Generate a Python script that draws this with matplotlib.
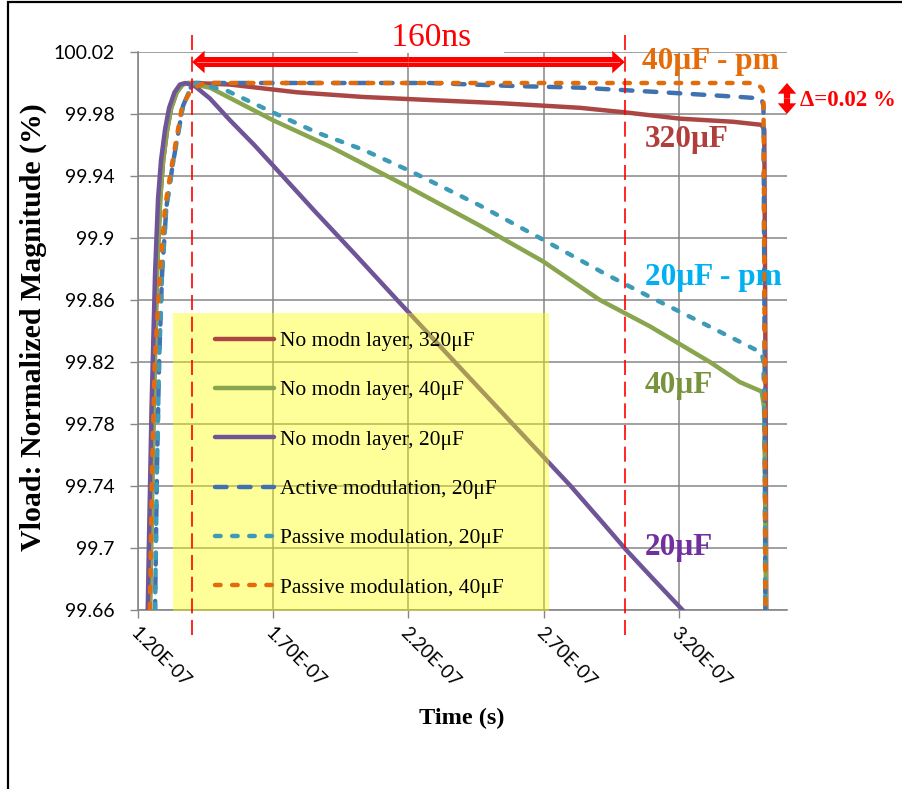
import matplotlib.pyplot as plt
import matplotlib.transforms as mtransforms
from matplotlib.patches import Rectangle, FancyArrowPatch
import numpy as np

# ---- data (time in ns, normalized magnitude in %) ----
t_320 = [123.8, 124.8, 125.8, 127.0, 128.2, 129.3, 130.8, 132.3, 134.3, 136.5, 138.5, 141.1,
         154.0, 178.8, 203.2, 228.0, 253.8, 283.4, 300.4, 320.4, 340.0, 350.6, 351.6, 352.1, 352.6]
v_320 = [99.60, 99.70, 99.79, 99.877, 99.925, 99.950, 99.970, 99.984, 99.994, 99.999, 100.0, 100.0,
         99.999, 99.994, 99.991, 99.989, 99.987, 99.984, 99.981, 99.977, 99.975, 99.973, 99.97, 99.80, 99.50]

t_40 = [123.8, 124.8, 125.8, 127.0, 128.2, 129.3, 130.8, 132.3, 134.3, 136.5, 138.5, 141.0, 146.6,
        157.7, 169.9, 191.0, 203.2, 220.9, 246.4, 269.7, 290.8, 309.3, 331.5, 342.6, 350.6, 351.6, 352.1, 352.6]
v_40 = [99.60, 99.70, 99.79, 99.877, 99.925, 99.950, 99.970, 99.984, 99.994, 99.999, 100.0, 99.999, 99.997,
        99.987, 99.976, 99.959, 99.948, 99.932, 99.908, 99.885, 99.860, 99.843, 99.820, 99.807, 99.801, 99.79, 99.70, 99.50]

t_20 = [123.0, 124.0, 125.0, 126.3, 127.4, 128.5, 130.0, 131.5, 133.5, 135.5, 137.5, 141.0, 146.6, 154.0,
        163.0, 171.4, 185.0, 200.0, 216.9, 235.0, 250.0, 265.0, 280.0, 292.0, 300.4, 310.0, 323.0]
v_20 = [99.60, 99.70, 99.79, 99.877, 99.925, 99.950, 99.970, 99.984, 99.994, 99.999, 100.0, 99.998, 99.990, 99.976,
        99.960, 99.944, 99.918, 99.890, 99.858, 99.824, 99.796, 99.768, 99.740, 99.716, 99.699, 99.681, 99.657]

t_act20 = [125.5, 126.3, 127.0, 127.8, 128.9, 130.5, 132.9, 136.6, 139.5, 141.5, 160.0, 200.0, 228.0,
           260.0, 283.4, 314.1, 342.6, 350.6, 351.3, 351.8, 352.2]
v_act20 = [99.55, 99.66, 99.75, 99.82, 99.877, 99.92, 99.948, 99.985, 99.997, 100.0, 100.0, 100.0, 100.0,
           99.998, 99.997, 99.994, 99.991, 99.99, 99.985, 99.80, 99.50]

t_pas20 = [125.5, 126.3, 127.0, 127.8, 128.9, 130.5, 132.9, 136.6, 139.5, 141.5, 146.0, 152.9, 169.9, 186.2,
           203.2, 220.9, 246.4, 269.7, 292.6, 309.3, 327.8, 342.6, 350.6, 351.3, 351.8, 352.2]
v_pas20 = [99.55, 99.66, 99.75, 99.82, 99.877, 99.92, 99.948, 99.985, 99.997, 100.0, 99.998, 99.995, 99.981, 99.968,
           99.957, 99.943, 99.921, 99.899, 99.877, 99.862, 99.846, 99.833, 99.826, 99.82, 99.75, 99.50]

t_pas40 = [123.5, 124.4, 125.2, 126.2, 128.1, 130.0, 132.6, 136.3, 139.2, 142.0, 144.8, 200.0, 300.0,
           348.0, 350.6, 351.3, 351.8, 352.2]
v_pas40 = [99.55, 99.66, 99.75, 99.82, 99.877, 99.92, 99.948, 99.985, 99.994, 99.998, 100.0, 100.0, 100.0,
           100.0, 99.997, 99.994, 99.80, 99.50]

labels = ["No modn layer, 320\u03bcF", "No modn layer, 40\u03bcF", "No modn layer, 20\u03bcF",
          "Active modulation, 20\u03bcF", "Passive modulation, 20\u03bcF", "Passive modulation, 40\u03bcF"]

xticks_ns = [120, 170, 220, 270, 320]
xtick_labels = ["1.20E-07", "1.70E-07", "2.20E-07", "2.70E-07", "3.20E-07"]
yticks = [99.66, 99.70, 99.74, 99.78, 99.82, 99.86, 99.90, 99.94, 99.98, 100.02]
ytick_labels = ["99.66", "99.7", "99.74", "99.78", "99.82", "99.86", "99.9", "99.94", "99.98", "100.02"]

window_ns = [140, 300]      # 160ns window markers
delta_band = [100.0, 99.98]  # 0.02 % band

serif = "Liberation Serif"
grid_c = "#868686"

fig = plt.figure(figsize=(9.03, 7.89), dpi=100)
W, H = 903, 789
ax = fig.add_axes([138 / W, 1 - 610 / H, 649 / W, 558 / H])

series = [
    (t_320, v_320, "#AA4643", None),
    (t_40, v_40, "#89A54E", None),
    (t_20, v_20, "#6F5597", None),
    (t_act20, v_act20, "#4172B0", (2.6, 2.8)),
    (t_pas20, v_pas20, "#3E9BB8", (1.25, 2.6)),
    (t_pas40, v_pas40, "#E36C0A", (1.25, 2.6)),
]
handles = []
for (t, v, c, d), lab in zip(series, labels):
    x = np.array(t) * 1e-9
    ln, = ax.plot(x, v, color=c, lw=3.2, label=lab, zorder=3,
                  solid_capstyle="round", dash_capstyle="round")
    if d is not None:
        ln.set_dashes(d)
    handles.append(ln)

ax.set_xlim(1.2e-7, 3.6e-7)
ax.set_ylim(99.66, 100.02)
ax.set_xticks(np.array(xticks_ns) * 1e-9)
ax.set_xticklabels(xtick_labels, rotation=-45, ha="left", va="top", rotation_mode="anchor",
                   fontname="Lato", fontsize=13.5)
ax.set_yticks(yticks)
ax.set_yticklabels(ytick_labels, fontname="Lato", fontsize=14)
ax.tick_params(axis="both", color=grid_c, width=1, length=6, direction="out")
ax.tick_params(axis="y", pad=11)
ax.tick_params(axis="x", pad=4)
off = mtransforms.ScaledTranslation(1 / 100, 0, fig.dpi_scale_trans)
for lbl in ax.get_xticklabels():
    lbl.set_transform(lbl.get_transform() + off)

ax.grid(True, color=grid_c, lw=1.1, zorder=0)
ax.set_axisbelow(True)
for s in ["top", "right"]:
    ax.spines[s].set_visible(False)
for s in ["left", "bottom"]:
    ax.spines[s].set_color(grid_c)
    ax.spines[s].set_linewidth(1.2)

# yellow translucent legend panel
ax.add_patch(Rectangle((35 / 649, -1 / 558), 376 / 649, 298 / 558, transform=ax.transAxes,
                       facecolor=(1, 1, 0, 0.4), edgecolor="none", zorder=4, clip_on=False))
leg = ax.legend(handles=handles, loc="upper left", bbox_to_anchor=(77 / 649, 279 / 558),
                frameon=False, borderaxespad=0, borderpad=0, handlelength=2.75,
                handletextpad=0.28, labelspacing=1.36, prop={"family": serif, "size": 15.5})
leg.set_zorder(6)

# 160ns window
for tw in window_ns:
    ax.axvline(tw * 1e-9, ymin=-25 / 558, ymax=1 + 20 / 558, color="red", lw=1.2,
               dashes=(9, 4), clip_on=False, zorder=5)
y_arrow = 100.02 - 10 / 1550
for a, b in [(220e-9, window_ns[0] * 1e-9), (220e-9, window_ns[1] * 1e-9)]:
    ax.add_patch(FancyArrowPatch((a, y_arrow), (b, y_arrow),
                                 arrowstyle="simple,head_length=0.5,head_width=0.9,tail_width=0.4",
                                 mutation_scale=18, color="red", lw=0, shrinkA=0, shrinkB=0,
                                 clip_on=False, zorder=7))
ax.plot([142e-9, 298e-9], [y_arrow, y_arrow], color="#ff8080", lw=0.7, clip_on=False, zorder=8)
fig.text(431 / W, 1 - 38 / H, "    160ns    ", color="red", fontname=serif, fontsize=24,
         ha="center", va="center", bbox=dict(facecolor="white", edgecolor="none", pad=0), zorder=5)

# delta marker: two solid arrows from the band centre
dtrans = mtransforms.blended_transform_factory(ax.transAxes, ax.transData)
y_mid = sum(delta_band) / 2
for yb in delta_band:
    ax.add_patch(FancyArrowPatch((1.0, y_mid), (1.0, yb), transform=dtrans,
                                 arrowstyle="simple,head_length=0.55,head_width=0.95,tail_width=0.32",
                                 mutation_scale=14, color="red", lw=0, shrinkA=0, shrinkB=0,
                                 clip_on=False, zorder=7))
fig.text(800 / W, 1 - 100 / H, "\u0394=0.02 %", color="red", fontname=serif, fontsize=16.5,
         fontweight="bold", ha="left", va="center")

# series annotations
notes = [("40\u03bcF - pm", 642, 62, "#E46C0A"), ("320\u03bcF", 645, 140, "#B03E3B"),
         ("20\u03bcF - pm", 645, 278, "#00B0F0"), ("40\u03bcF", 645, 385, "#77933C"),
         ("20\u03bcF", 645, 548, "#7030A0")]
for txt, px, py, c in notes:
    fig.text(px / W, 1 - py / H, txt, color=c, fontname=serif, fontsize=22.5, fontweight="bold",
             ha="left", va="center", zorder=9)

fig.text(33 / W, 1 - 327 / H, "Vload: Normalized Magnitude (%)", rotation=90, fontname=serif,
         fontsize=21.5, fontweight="bold", ha="center", va="center")
fig.text(462 / W, 1 - 718 / H, "Time (s)", fontname=serif, fontsize=17.5, fontweight="bold",
         ha="center", va="center")

# outer frame
fig.patches.append(Rectangle((7.5 / W, -0.1), 1.2, 1.1 - 2.5 / H, transform=fig.transFigure,
                             facecolor="none", edgecolor="black", lw=1.6))

fig.savefig("out.png", dpi=100)
